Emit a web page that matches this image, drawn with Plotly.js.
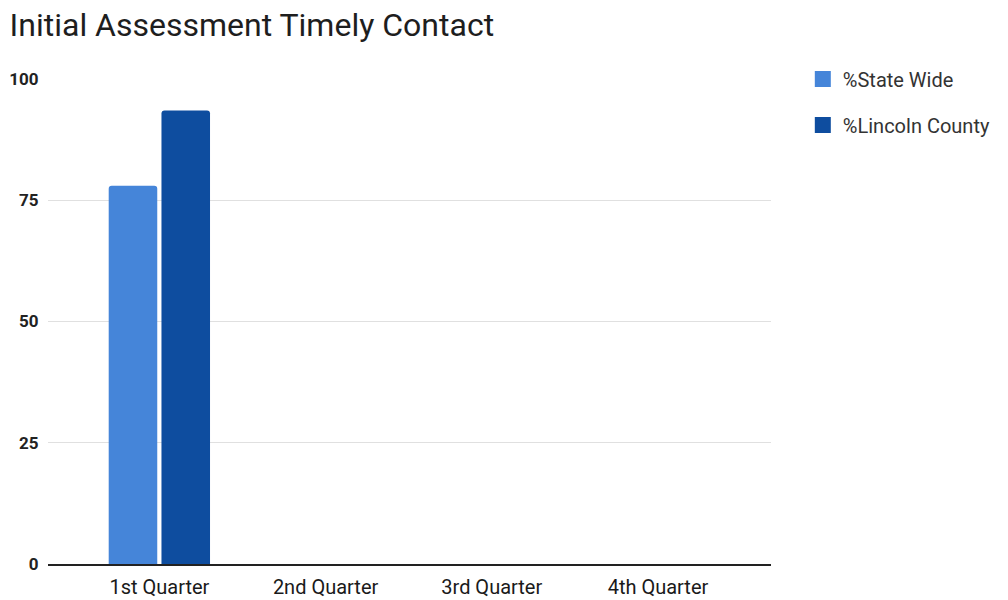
<!DOCTYPE html>
<html>
<head>
<meta charset="utf-8">
<script src="https://cdn.plot.ly/plotly-3.0.1.min.js"></script>
<style>html,body{margin:0;padding:0;background:#fff;}#chart{width:1008px;height:600px;}</style>
</head>
<body>
<div id="chart"></div>
<script>
const categories = ["1st Quarter", "2nd Quarter", "3rd Quarter", "4th Quarter"];
const stateWide = [78, 0, 0, 0];
const lincolnCounty = [93.5, 0, 0, 0];
const seriesNames = ["%State Wide", "%Lincoln County"];
const seriesColors = ["#4585d9", "#0e4d9f"];
const yTicks = [0, 25, 50, 75, 100];

const data = [
  {type: "bar", x: categories, y: stateWide, name: seriesNames[0], showlegend: false,
   marker: {color: seriesColors[0]}},
  {type: "bar", x: categories, y: lincolnCounty, name: seriesNames[1], showlegend: false,
   marker: {color: seriesColors[1]}},
  // legend-only keys (square swatches)
  {type: "scatter", mode: "markers", x: [null], y: [null], name: seriesNames[0], legendgroup: "a",
   marker: {symbol: "square", size: 16, color: seriesColors[0]}},
  {type: "scatter", mode: "markers", x: [null], y: [null], name: seriesNames[1], legendgroup: "b",
   marker: {symbol: "square", size: 16, color: seriesColors[1]}}
];

const layout = {
  width: 1008, height: 600,
  paper_bgcolor: "#fff", plot_bgcolor: "#fff",
  font: {family: "Roboto, sans-serif", color: "#333"},
  margin: {l: 48, r: 235, t: 79, b: 36, pad: 0},
  title: {text: "Initial Assessment Timely Contact", x: 0.0095, xanchor: "left", y: 0.958, yanchor: "middle",
          font: {size: 32, color: "#1e1e1e", family: "Roboto, sans-serif"}},
  barmode: "group",
  bargap: 0.365,
  bargroupgap: 0.08,
  barcornerradius: 3,
  xaxis: {
    type: "category",
    range: [-0.67, 3.68],
    showgrid: false, zeroline: false,
    showline: true, linecolor: "#222", linewidth: 2,
    ticks: "outside", ticklen: 4, tickcolor: "rgba(0,0,0,0)",
    tickfont: {size: 20, color: "#1a1a1a", family: "Roboto, sans-serif"}
  },
  yaxis: {
    range: [0, 100],
    tickvals: yTicks,
    ticktext: yTicks.map(String),
    showgrid: true, gridcolor: "#e0e0e0", gridwidth: 1,
    zeroline: false, showline: false,
    ticks: "outside", ticklen: 5, tickcolor: "rgba(0,0,0,0)",
    tickfont: {size: 17, color: "#222", family: "Roboto, sans-serif", weight: "bold"}
  },
  showlegend: true,
  legend: {
    x: 1.044, xanchor: "left", y: 1.04, yanchor: "top",
    traceorder: "grouped", tracegroupgap: 17,
    font: {size: 20, color: "#333"},
    bgcolor: "rgba(0,0,0,0)"
  }
};

Plotly.newPlot("chart", data, layout, {displayModeBar: false, staticPlot: true});
</script>
</body>
</html>
